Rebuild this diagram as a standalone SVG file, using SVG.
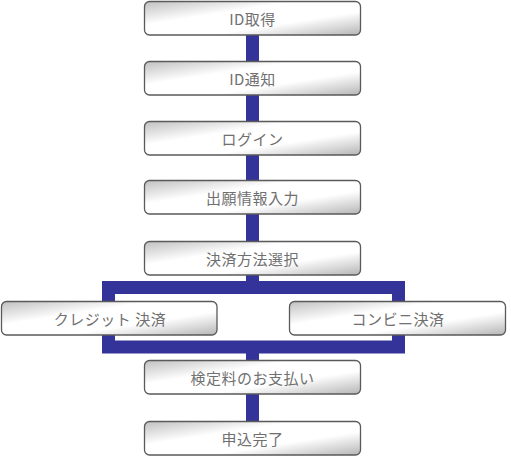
<svg xmlns="http://www.w3.org/2000/svg" width="511" height="458" viewBox="0 0 511 458">
<style>
.box{fill:url(#g);stroke:#5a5a5a;stroke-width:1.3}
.t{font-family:"Noto Sans CJK JP","Liberation Sans",sans-serif;font-size:15px;letter-spacing:0.5px;fill:#707070;text-anchor:middle;dominant-baseline:central}
.c{fill:none;stroke:#333399;stroke-width:13}
</style>
<defs>
<linearGradient id="g" x1="0" y1="0" x2="1" y2="1">
<stop offset="0" stop-color="#c0c0c0"/>
<stop offset="0.35" stop-color="#ffffff"/>
<stop offset="0.65" stop-color="#ffffff"/>
<stop offset="1" stop-color="#b5b5b5"/>
</linearGradient>
</defs>
<g id="connectors">
<line class="c" x1="252.5" y1="35" x2="252.5" y2="281"/>
<rect class="c" x="108.5" y="287.5" width="290" height="59.5"/>
<line class="c" x1="252.5" y1="353" x2="252.5" y2="421"/>
</g>
<g id="n1"><rect class="box" x="144.5" y="1.5" width="216" height="33.5" rx="5"/><text class="t" x="252.5" y="18">ID取得</text></g>
<g id="n2"><rect class="box" x="144.5" y="61.5" width="216" height="33.5" rx="5"/><text class="t" x="252.5" y="78">ID通知</text></g>
<g id="n3"><rect class="box" x="144.5" y="121.5" width="216" height="33.5" rx="5"/><text class="t" x="252.5" y="138">ログイン</text></g>
<g id="n4"><rect class="box" x="144.5" y="180.5" width="216" height="33.5" rx="5"/><text class="t" x="252.5" y="197">出願情報入力</text></g>
<g id="n5"><rect class="box" x="144.5" y="241.5" width="216" height="33.5" rx="5"/><text class="t" x="252.5" y="258">決済方法選択</text></g>
<g id="n6"><rect class="box" x="1.5" y="301.5" width="215.5" height="33.5" rx="5"/><text class="t" x="110" y="318">クレジット 決済</text></g>
<g id="n7"><rect class="box" x="289.5" y="301.5" width="216" height="33.5" rx="5"/><text class="t" x="398" y="318">コンビニ決済</text></g>
<g id="n8"><rect class="box" x="144.5" y="360.5" width="216" height="33.5" rx="5"/><text class="t" x="252.5" y="377">検定料のお支払い</text></g>
<g id="n9"><rect class="box" x="144.5" y="421.5" width="216" height="33.5" rx="5"/><text class="t" x="252.5" y="438">申込完了</text></g>
</svg>
